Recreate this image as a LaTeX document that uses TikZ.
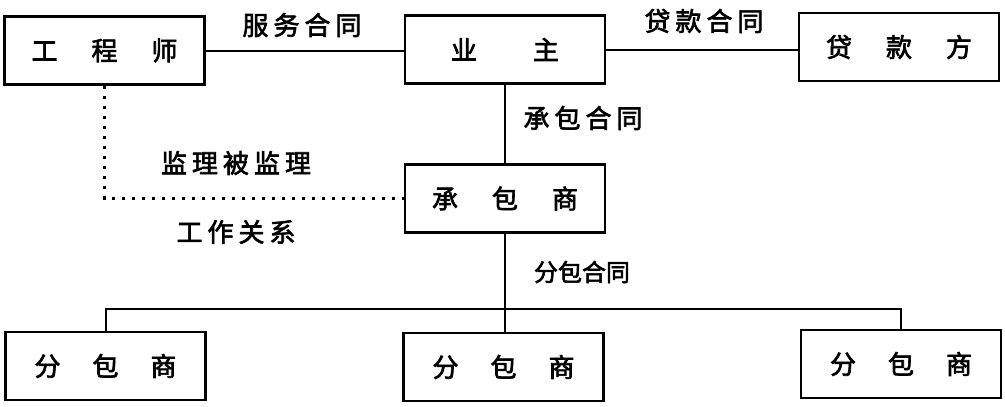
\documentclass[tikz,border=0pt]{standalone}
\usepackage{fontspec}
\newfontfamily\cjk[FakeBold=2.5]{Noto Sans CJK SC}
\newcommand{\lsp}{\hspace{5pt}}
\tikzset{
  box/.style={draw, line width=2.6pt, minimum width=200pt, minimum height=68pt, inner sep=0pt,
    font=\cjk\fontsize{26}{26}\selectfont},
  lbl/.style={inner sep=0pt, font=\cjk\fontsize{26}{26}\selectfont},
  conn/.style={line width=2pt},
  thin/.style={line width=1.4pt},
  dots/.style={line width=2.2pt, dash pattern=on 3pt off 7pt},
}
\begin{document}
\begin{tikzpicture}[x=1pt,y=-1pt]
\useasboundingbox (0,0) rectangle (1005,407);
% boxes
\node[box] (eng)  at (104.5,50.5) {工\hspace{34pt}程\hspace{34pt}师};
\node[box] (own)  at (505,49.5)   {业\hspace{56pt}主};
\node[box] (lend) at (899,47)     {贷\hspace{34pt}款\hspace{34pt}方};
\node[box] (con)  at (505,198.5)  {承\hspace{34pt}包\hspace{34pt}商};
\node[box] (s1)   at (105.5,366)  {分\hspace{32pt}包\hspace{32pt}商};
\node[box] (s2)   at (503.5,367)  {分\hspace{32pt}包\hspace{32pt}商};
\node[box] (s3)   at (901,364)    {分\hspace{32pt}包\hspace{32pt}商};
% labels
\node[lbl] (l1) at (302,25)  {服\lsp 务\lsp 合\lsp 同};
\node[lbl] (l2) at (704,21)  {贷\lsp 款\lsp 合\lsp 同};
\node[lbl] (l3) at (583,118) {承\lsp 包\lsp 合\lsp 同};
\node[lbl] (l4) at (236,163) {监\lsp 理\lsp 被\lsp 监\lsp 理};
\node[lbl] (l5) at (236,232) {工\lsp 作\lsp 关\lsp 系};
\node[lbl, font=\cjk\fontsize{24}{24}\selectfont] (l6) at (582,272) {分包合同};
% connectors
\draw[conn] (eng.east) -- (eng.east -| own.west);
\draw[conn] (own.east) -- (own.east -| lend.west);
\draw[conn] (own.south) -- (con.north);
\draw[dots] (eng.south) |- (con.west);
\coordinate (busL) at (105.5,309);
\coordinate (busR) at (901,309);
\draw[thin] (con.south) -- (con.south |- s2.north);
\draw[conn] (s1.north) -- (busL) -- (busR) -- (s3.north);
\end{tikzpicture}
\end{document}
